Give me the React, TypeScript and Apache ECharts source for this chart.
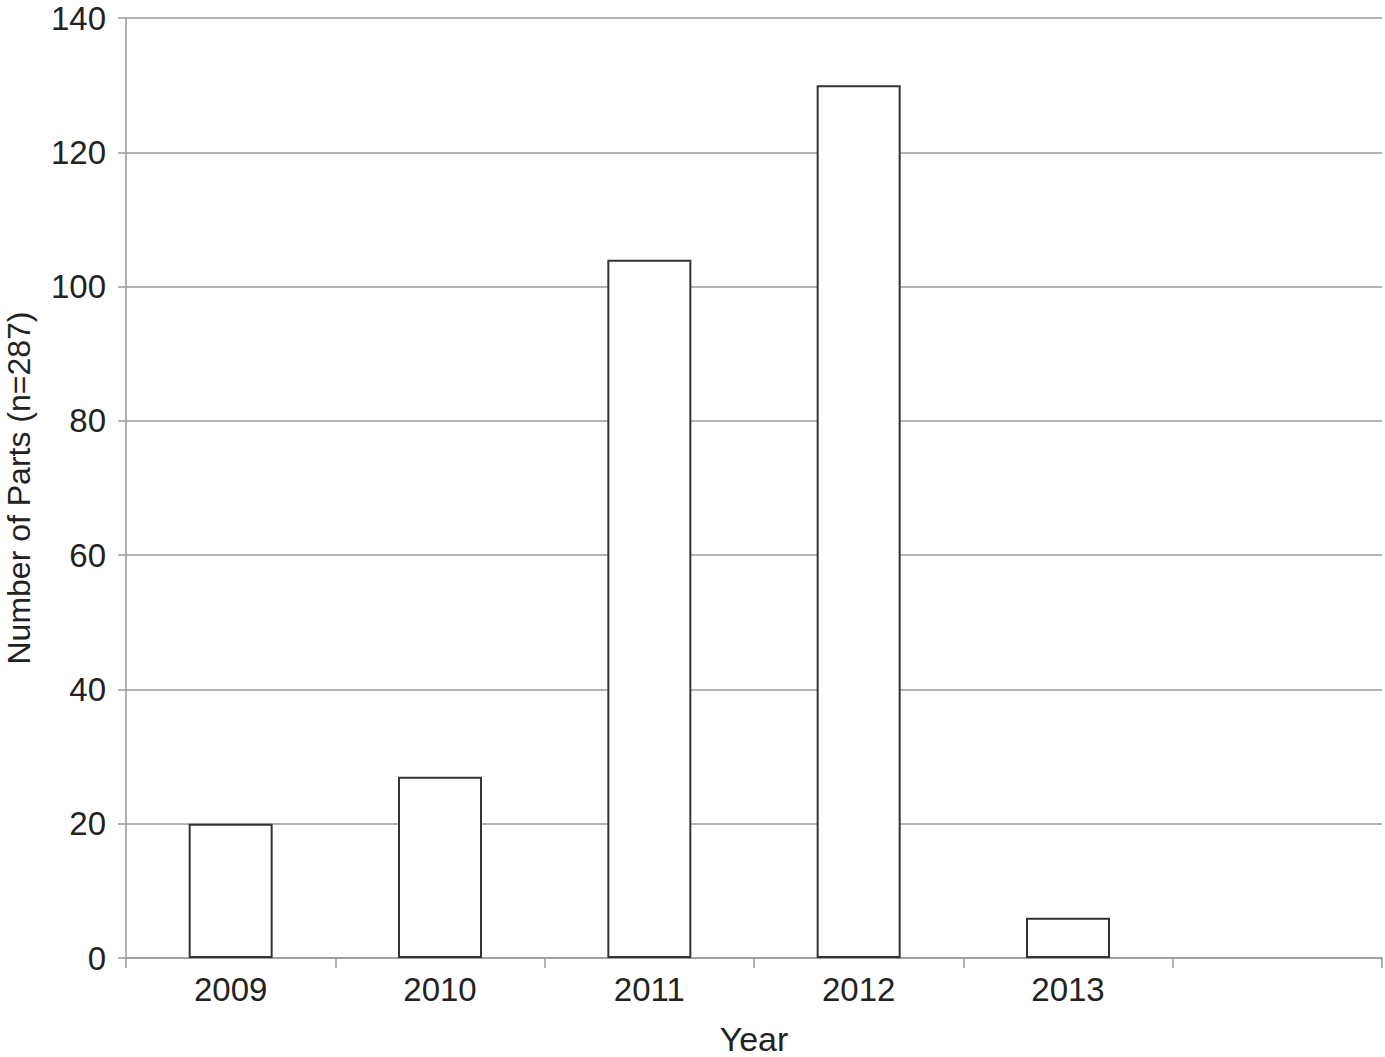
import React, { useEffect, useRef } from "react";
import * as echarts from "echarts";

const categories = ["2009", "2010", "2011", "2012", "2013", ""];
const values = [20, 27, 104, 130, 6, null];
const yTicks = { min: 0, max: 140, interval: 20 };

export default function App() {
  const ref = useRef<HTMLDivElement>(null);
  useEffect(() => {
    const chart = echarts.init(ref.current!, null, { renderer: "svg" });
    const font = "Liberation Sans, Arial, Helvetica, sans-serif";
    chart.setOption({
      animation: false,
      backgroundColor: "#ffffff",
      grid: {
        left: 126,
        right: 3,
        top: 18,
        bottom: 99,
        containLabel: false,
        outerBoundsMode: "none",
      },
      xAxis: {
        type: "category",
        data: categories,
        name: "Year",
        nameLocation: "middle",
        nameGap: 64,
        nameTextStyle: { fontFamily: font, fontSize: 34, color: "#222" },
        axisLine: { lineStyle: { color: "#9a9a9a", width: 1.5 } },
        axisTick: { show: true, alignWithLabel: false, length: 10, lineStyle: { color: "#9a9a9a", width: 1.5 } },
        axisLabel: { fontFamily: font, fontSize: 33, color: "#222", margin: 15, interval: 0 },
      },
      yAxis: {
        type: "value",
        min: yTicks.min,
        max: yTicks.max,
        interval: yTicks.interval,
        name: "Number of Parts (n=287)",
        nameLocation: "middle",
        nameGap: 91,
        nameTextStyle: { fontFamily: font, fontSize: 32, color: "#222" },
        axisLine: { show: true, lineStyle: { color: "#9a9a9a", width: 1.5 } },
        axisTick: { show: true, length: 8, lineStyle: { color: "#9a9a9a", width: 1.5 } },
        axisLabel: { fontFamily: font, fontSize: 33, color: "#222", margin: 20 },
        splitLine: { show: true, lineStyle: { color: "#9a9a9a", width: 1.5 } },
      },
      series: [
        {
          type: "bar",
          data: values,
          barWidth: 84,
          itemStyle: { color: "#ffffff", borderColor: "#333333", borderWidth: 2 },
        },
      ],
    });
    return () => chart.dispose();
  }, []);
  return (
    <div
      ref={ref}
      style={{ position: "fixed", left: 0, top: 0, width: 1385, height: 1057 }}
    />
  );
}
